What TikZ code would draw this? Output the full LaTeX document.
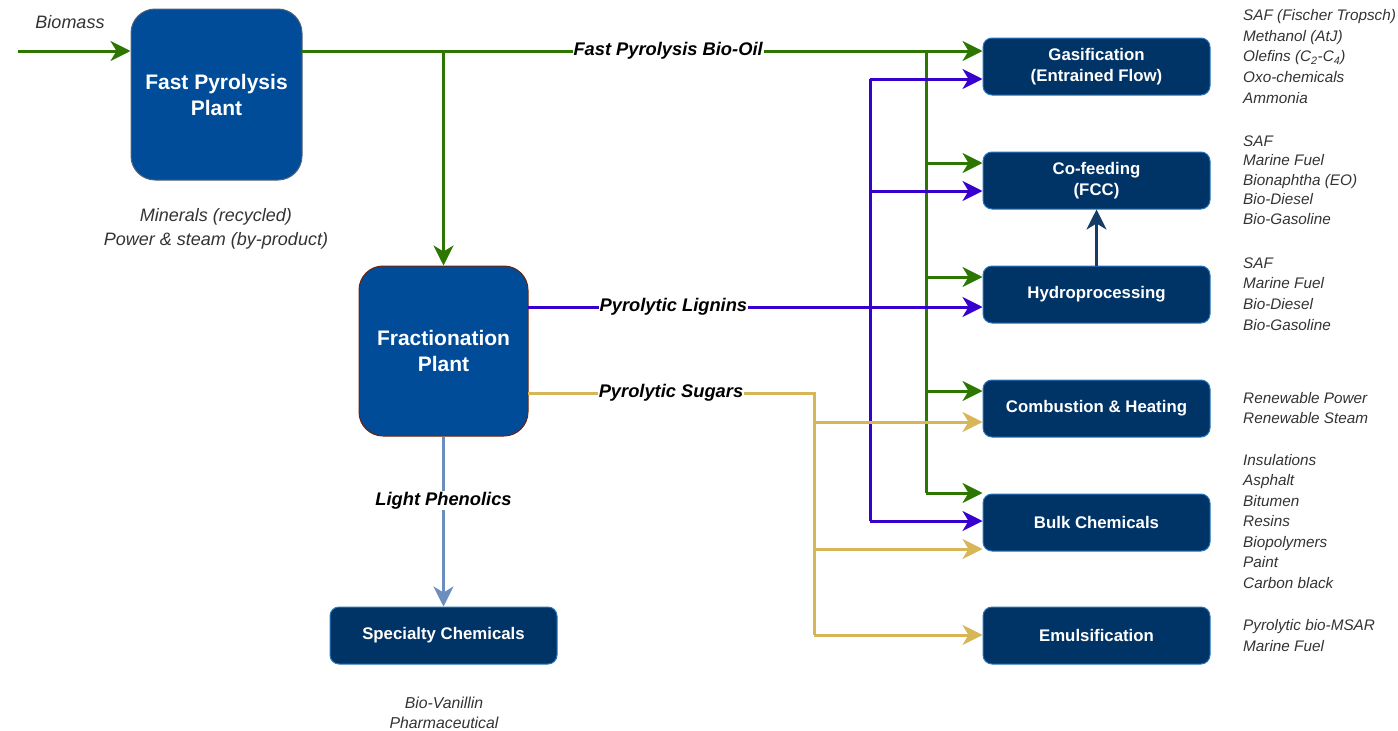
\documentclass[tikz,border=0pt]{standalone}
\usepackage{fontspec}
\setmainfont{Liberation Sans}
\usetikzlibrary{arrows.meta}
\definecolor{plantblue}{RGB}{0,76,153}
\definecolor{plantedge}{RGB}{80,100,125}
\definecolor{fracedge}{RGB}{110,35,10}
\definecolor{unitblue}{RGB}{0,51,102}
\definecolor{unitedge}{RGB}{40,120,190}
\definecolor{oilgreen}{RGB}{45,118,0}
\definecolor{lignin}{RGB}{55,0,204}
\definecolor{sugar}{RGB}{214,182,86}
\definecolor{phenol}{RGB}{108,142,191}
\definecolor{upgrade}{RGB}{20,60,100}
\definecolor{textgrey}{RGB}{51,51,51}

\begin{document}
\begin{tikzpicture}[x=1pt,y=-1pt]
			\tikzstyle{es} = [line width=3pt, -{Stealth[length=20pt,width=20pt,inset=6pt]}]
			\tikzstyle{bus} = [line width=3pt]
			\tikzstyle{plant} = [fill=plantblue, line width=1pt, rounded corners=24pt, minimum width=171pt, minimum height=171pt, text=white, align=center, font=\bfseries\fontsize{21}{26}\selectfont]
			\tikzstyle{unit} = [draw=unitedge, fill=unitblue, line width=1pt, rounded corners=9pt, minimum width=227pt, minimum height=57pt, text=white, align=center, font=\bfseries\fontsize{16.8}{21}\selectfont]
			\tikzstyle{flow} = [fill=white, text=black, inner sep=1pt, font=\bfseries\itshape\fontsize{18.3}{21}\selectfont]
			\tikzstyle{note} = [text=textgrey, align=center, inner sep=0pt, font=\itshape\fontsize{18}{24}\selectfont]
			\tikzstyle{prod} = [text=textgrey, align=left, anchor=west, inner sep=0pt, font=\itshape\fontsize{15.3}{20.7}\selectfont]
			\useasboundingbox (0,0) rectangle (1398,731);
			\node [plant, draw=plantedge] (fpp) at (216.5,94.5) {Fast Pyrolysis\\Plant};
			\node [plant, draw=fracedge, minimum width=169pt, minimum height=170pt] (frac) at (443.5,351) {Fractionation\\Plant};
			\node [unit] (spec) at (443.5,635.5) {Specialty Chemicals};
			\node [unit] (gas) at (1096.5,66.5) {Gasification\\(Entrained Flow)};
			\node [unit] (cofeed) at (1096.5,180.5) {Co-feeding\\(FCC)};
			\node [unit] (hydro) at (1096.5,294.5) {Hydroprocessing};
			\node [unit] (comb) at (1096.5,408.5) {Combustion \& Heating};
			\node [unit] (bulk) at (1096.5,522.5) {Bulk Chemicals};
			\node [unit] (emul) at (1096.5,635.5) {Emulsification};
			\node [note] (biomass) at (70,22) {Biomass};
			\node [note] (minerals) at (216,229) {Minerals (recycled)\\Power \& steam (by-product)};
			\node [note, font=\itshape\fontsize{15.8}{20}\selectfont] (vanillin) at (444,713) {Bio-Vanillin\\Pharmaceutical};
			\node [prod] (gaslist) at (1243,56.5) {SAF (Fischer Tropsch)\\Methanol (AtJ)\\Olefins (C\textsubscript{2}-C\textsubscript{4})\\Oxo-chemicals\\Ammonia};
			\node [prod, font=\itshape\fontsize{15.3}{19.5}\selectfont] (cofeedlist) at (1243,180) {SAF\\Marine Fuel\\Bionaphtha (EO)\\Bio-Diesel\\Bio-Gasoline};
			\node [prod] (hydrolist) at (1243,294) {SAF\\Marine Fuel\\Bio-Diesel\\Bio-Gasoline};
			\node [prod] (comblist) at (1243,408) {Renewable Power\\Renewable Steam};
			\node [prod, font=\itshape\fontsize{15.3}{20.5}\selectfont] (bulklist) at (1243,521.5) {Insulations\\Asphalt\\Bitumen\\Resins\\Biopolymers\\Paint\\Carbon black};
			\node [prod] (emullist) at (1243,635.5) {Pyrolytic bio-MSAR\\Marine Fuel};
			\coordinate (in) at (18,51);
			\coordinate (o1) at (302,51);
			\coordinate (o2) at (443.5,51);
			\coordinate (g0) at (926,51);
			\coordinate (g1) at (926,163);
			\coordinate (g2) at (926,277);
			\coordinate (g3) at (926,391);
			\coordinate (g4) at (926,493);
			\coordinate (l0) at (528,307);
			\coordinate (p0) at (870,79);
			\coordinate (p1) at (870,191);
			\coordinate (p2) at (870,521);
			\coordinate (s0) at (528,393);
			\coordinate (s1) at (814,393);
			\coordinate (s2) at (814,422);
			\coordinate (s3) at (814,549);
			\coordinate (s4) at (814,635);
			\draw [es, oilgreen] (in) -- (in -| fpp.west);
			\draw [es, oilgreen] (o2) -- (frac.north);
			\draw [bus, oilgreen] (g0) -- (g4);
			\draw [es, oilgreen] (g1) -- (g1 -| cofeed.west);
			\draw [es, oilgreen] (g2) -- (g2 -| hydro.west);
			\draw [es, oilgreen] (g3) -- (g3 -| comb.west);
			\draw [es, oilgreen] (g4) -- (g4 -| bulk.west);
			\draw [bus, lignin] (p0) -- (p2);
			\draw [es, lignin] (p0) -- (p0 -| gas.west);
			\draw [es, lignin] (p1) -- (p1 -| cofeed.west);
			\draw [es, lignin] (p2) -- (p2 -| bulk.west);
			\draw [es, lignin] (l0) -- node [flow, pos=0.32] {Pyrolytic Lignins} (l0 -| hydro.west);
			\draw [es, oilgreen] (o1) -- node [flow, pos=0.538] {Fast Pyrolysis Bio-Oil} (o1 -| gas.west);
			\draw [bus, sugar] (s0) -- node [flow] {Pyrolytic Sugars} (s1) -- (s4);
			\draw [es, sugar] (s2) -- (s2 -| comb.west);
			\draw [es, sugar] (s3) -- (s3 -| bulk.west);
			\draw [es, sugar] (s4) -- (s4 -| emul.west);
			\draw [es, phenol] (frac.south) -- node [flow, pos=0.376] {Light Phenolics} (spec.north);
			\draw [es, upgrade] (hydro.north) -- (cofeed.south);
		\end{tikzpicture}
\end{document}
